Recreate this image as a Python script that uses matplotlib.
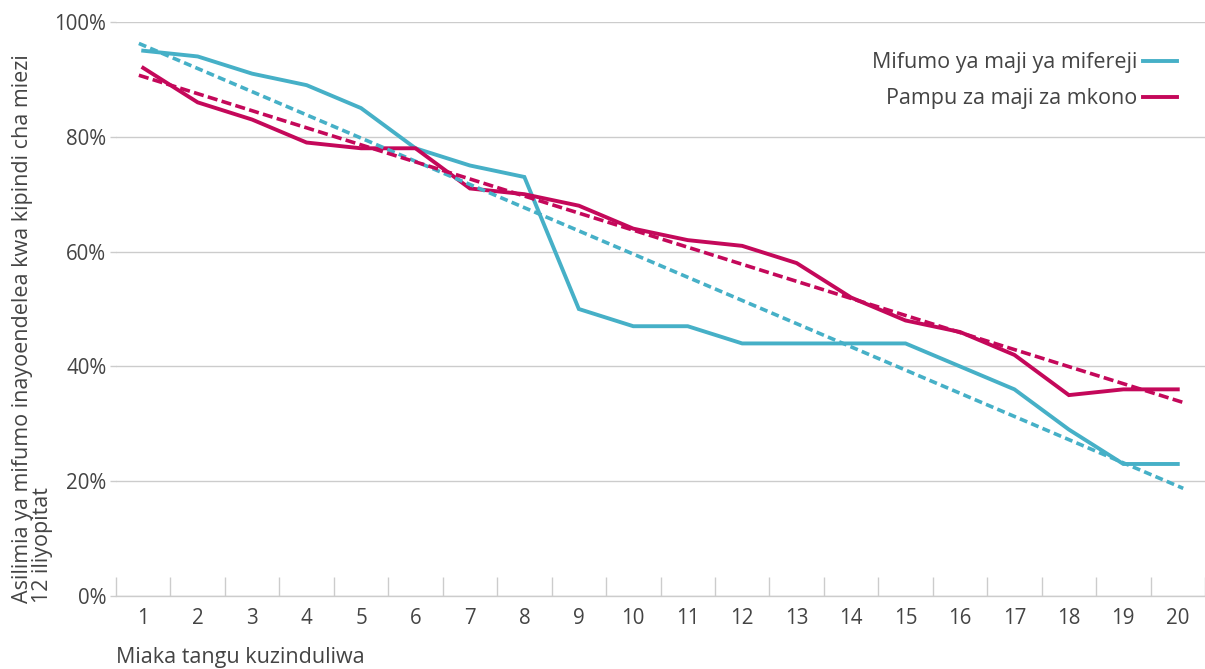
import numpy as np
import matplotlib.pyplot as plt
from matplotlib.ticker import FixedLocator, PercentFormatter

plt.rcParams['font.family'] = ['Open Sans', 'DejaVu Sans']
plt.rcParams['font.stretch'] = 'normal'

# data
years = np.arange(1, 21)
mifereji = [95, 94, 91, 89, 85, 78, 75, 73, 50, 47, 47, 44, 44, 44, 44, 40, 36, 29, 23, 23]
pampu = [92, 86, 83, 79, 78, 78, 71, 70, 68, 64, 62, 61, 58, 52, 48, 46, 42, 35, 36, 36]
labels = ['Mifumo ya maji ya mifereji', 'Pampu za maji za mkono']

blue = '#46b0c7'
red = '#c4085a'
text_col = '#444444'
grid_col = '#cccccc'

fig = plt.figure(figsize=(12.05, 6.69), dpi=100)
ax = fig.add_axes([116 / 1205, 1 - 596 / 669, 1 - 116 / 1205, (596 - 22) / 669])

ax.plot(years, mifereji, color=blue, lw=2.8, label=labels[0], solid_joinstyle='miter')
ax.plot(years, pampu, color=red, lw=2.8, label=labels[1], solid_joinstyle='miter')

# linear trend lines
xs = np.array([0.92, 20.1])
for values, col, dash in [(mifereji, blue, (2.2, 1.2)), (pampu, red, (2.8, 1.2))]:
    k, b = np.polyfit(years, values, 1)
    ax.plot(xs, k * xs + b, color=col, lw=2.6, dashes=dash)

ax.set_xlim(0.5, 20.5)
ax.set_ylim(0, 100)
ax.yaxis.set_major_locator(FixedLocator([0, 20, 40, 60, 80, 100]))
ax.yaxis.set_major_formatter(PercentFormatter(decimals=0))
ax.grid(axis='y', color=grid_col, lw=1)
ax.set_axisbelow(True)

ax.set_xticks(years)
ax.xaxis.set_minor_locator(FixedLocator(np.arange(0.5, 21, 1)))
ax.tick_params(axis='x', which='major', length=0, pad=9, labelsize=14.8, labelcolor=text_col)
ax.tick_params(axis='x', which='minor', direction='in', length=14, color=grid_col, width=1)
ax.tick_params(axis='y', length=4, color=grid_col, width=1, pad=3, labelsize=14.8, labelcolor=text_col)

for s in ['top', 'right', 'left']:
    ax.spines[s].set_visible(False)
ax.spines['bottom'].set_color(grid_col)
ax.spines['bottom'].set_linewidth(1)

leg = ax.legend(loc='upper right', bbox_to_anchor=(1184 / 1205, 0.962), frameon=False,
                markerfirst=False, fontsize=15.5, handlelength=1.6, handletextpad=0.25,
                labelspacing=0.7, borderaxespad=0)
for t in leg.get_texts():
    t.set_color(text_col)

fig.text(0.010, 1 - 603 / 669, 'Asilimia ya mifumo inayoendelea kwa kipindi cha miezi\n12 iliyopitat',
         rotation=90, ha='left', va='bottom', multialignment='left',
         fontsize=15.5, color=text_col, linespacing=0.95)
fig.text(116 / 1205, 1 - 658 / 669, 'Miaka tangu kuzinduliwa', ha='left', va='center',
         fontsize=15.5, color=text_col)

fig.savefig('out.png', dpi=100)
